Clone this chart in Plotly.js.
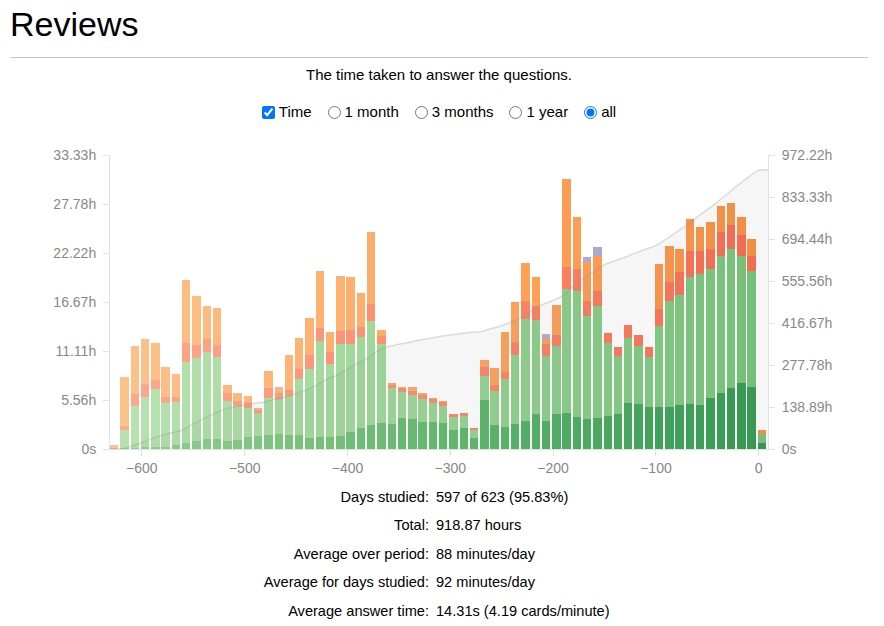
<!DOCTYPE html>
<html>
<head>
<meta charset="utf-8">
<script src="https://cdn.plot.ly/plotly-3.0.1.min.js"></script>
<style>
  html, body { margin: 0; padding: 0; background: #fff; }
  body { width: 884px; height: 626px; position: relative; overflow: hidden;
         font-family: "Liberation Sans", Arial, Helvetica, sans-serif; color: #000; }
  h1 { position: absolute; left: 10px; top: 4px; margin: 0; font-size: 34px; font-weight: normal; line-height: 40px; }
  hr { position: absolute; left: 10px; top: 57px; width: 858px; margin: 0; border: 0; border-top: 1px solid #c8c8c8; }
  .subtitle { position: absolute; left: 10px; width: 858px; top: 65px; text-align: center; font-size: 15px; line-height: 20px; }
  .controls { position: absolute; left: 10px; width: 858px; top: 102px; text-align: center; font-size: 15px; line-height: 20px; }
  .controls label { margin: 0 0 0 16px; white-space: nowrap; }
  .controls label:first-child { margin-left: 0; }
  .controls input { margin: 0 4px 0 0; vertical-align: -2px; }
  #chart { position: absolute; left: 0; top: 130px; width: 884px; height: 350px; }
  .stats { position: absolute; left: 0; top: 482.5px; width: 884px; display: grid;
           grid-template-columns: 429px auto; column-gap: 7px; font-size: 14.6px; line-height: 28.6px; }
  .stats .k { text-align: right; }
</style>
</head>
<body>
<h1>Reviews</h1>
<hr>
<div class="subtitle">The time taken to answer the questions.</div>
<div class="controls"><label><input type="checkbox" checked>Time</label><label><input type="radio" name="range">1 month</label><label><input type="radio" name="range">3 months</label><label><input type="radio" name="range">1 year</label><label><input type="radio" name="range" checked>all</label></div>
<div id="chart"></div>
<div class="stats" id="stats"></div>
<script>
// Ten-day bins, first day of each bin (days relative to today)
const binStart = [-631, -621, -611, -601, -591, -581, -571, -561, -551, -541,
  -531, -521, -511, -501, -491, -481, -471, -461, -451, -441,
  -431, -421, -411, -401, -391, -381, -371, -361, -351, -341,
  -331, -321, -311, -301, -291, -281, -271, -261, -251, -241,
  -231, -221, -211, -201, -191, -181, -171, -161, -151, -141,
  -131, -121, -111, -101, -91, -81, -71, -61, -51, -41,
  -31, -21, -11, -1];
const BIN_DAYS = 10;

// Hours spent per bin, by card type
const mature = [0, .15, .15, .19, .23, .23, .42, .72, .87, 1.1,
  1.12, .91, 1.02, 1.4, 1.47, 1.59, 1.7, 1.55, 1.55, 1.25,
  1.4, 1.32, 1.47, 1.93, 2.42, 2.76, 2.99, 2.83, 3.46, 3.36,
  3.02, 3.02, 2.91, 2.15, 2.34, 1.28, 5.56, 2.72, 2.5, 2.83,
  3.21, 3.97, 3.17, 3.97, 4.04, 3.67, 3.36, 3.48, 3.74, 3.97,
  5.18, 5.06, 4.8, 4.8, 4.8, 4.99, 5.06, 4.99, 5.82, 6.39,
  6.88, 7.45, 7.07, .72];
const young = [.05, 2.0, 4.73, 5.74, 6.53, 5.02, 4.87, 9.11, 9.41, 9.94,
  9.35, 4.57, 3.86, 3.21, 2.57, 4.15, 3.93, 4.42, 6.35, 7.83,
  10.84, 8.32, 10.43, 9.94, 10.24, 11.71, 8.91, 4.12, 3.02, 2.76,
  2.61, 2.23, 2.0, 1.52, 1.4, .87, 2.72, 3.86, 5.44, 7.83,
  11.49, 10.66, 7.37, 7.75, 14.06, 14.28, 11.72, 12.73, 8.24, 6.57,
  7.44, 6.66, 5.59, 9.18, 12.02, 12.47, 14.4, 14.81, 14.59, 15.53,
  15.76, 14.43, 13.11, .98];
const relearn = [.05, .46, 1.32, 1.44, 1.06, .61, .57, 2.19, 1.51, 1.39,
  1.32, .83, .56, .68, .36, 1.14, .68, .75, 1.13, 1.58,
  1.44, 1.32, 1.52, 1.62, 1.13, 1.97, .95, .3, .4, .49,
  .5, .45, .43, .25, .3, .22, 1.05, .68, .83, 1.51,
  2.12, 1.58, 1.36, 1.21, 2.5, 2.46, 1.74, 1.74, 1.21, .99,
  1.4, 1.21, 1.21, 1.89, 2.15, 2.65, 2.99, 2.65, 2.27, 2.64,
  2.79, 2.34, 1.74, .05];
const learn = [.3, 5.52, 5.48, 5.06, 4.2, 3.4, 2.61, 7.14, 5.59, 3.82,
  4.16, .95, .87, .76, .25, 1.96, .61, 3.98, 3.52, 4.15,
  6.5, 2.34, 6.19, 6.05, 3.93, 8.2, .64, .19, .15, .42,
  .18, .12, .1, .05, .08, .05, .76, 1.96, 4.46, 4.53,
  4.23, 3.25, .53, 3.4, 10.01, 5.86, 4.42, 3.97, 0, 0,
  0, 0, 0, 5.07, 4.08, 2.57, 3.59, 2.68, 3.09, 3.03,
  2.5, 2.05, 1.85, .4];
const filtered = [0, 0, 0, 0, 0, 0, 0, 0, 0, 0,
  0, 0, 0, 0, 0, 0, .15, 0, 0, 0,
  0, 0, 0, 0, 0, 0, 0, 0, 0, 0,
  0, 0, 0, 0, 0, 0, 0, 0, 0, 0,
  0, 0, .61, 0, 0, 0, .57, .94, 0, 0,
  0, 0, 0, 0, 0, 0, 0, 0, 0, 0,
  0, 0, 0, 0];

// Axis ticks
const xTicks = [-600, -500, -400, -300, -200, -100, 0];
const leftTickHours = [0, 5.5556, 11.1111, 16.6667, 22.2222, 27.7778, 33.3333];
const leftTickText = ["0s", "5.56h", "11.11h", "16.67h", "22.22h", "27.78h", "33.33h"];
const rightTickHours = [0, 138.889, 277.778, 416.667, 555.556, 694.444, 833.333, 972.222];
const rightTickText = ["0s", "138.89h", "277.78h", "416.67h", "555.56h", "694.44h", "833.33h", "972.22h"];

// Summary lines
const statLabels = ["Days studied:", "Total:", "Average over period:", "Average for days studied:", "Average answer time:"];
const statValues = ["597 of 623 (95.83%)", "918.87 hours", "88 minutes/day", "92 minutes/day", "14.31s (4.19 cards/minute)"];

const X_RANGE = [-631, 9];

// ColorBrewer sequential schemes, sampled with a uniform B-spline
const GREENS = ["#f7fcf5","#e5f5e0","#c7e9c0","#a1d99b","#74c476","#41ab5d","#238b45","#006d2c","#00441b"];
const REDS = ["#fff5f0","#fee0d2","#fcbba1","#fc9272","#fb6a4a","#ef3b2c","#cb181d","#a50f15","#67000d"];
const ORANGES = ["#fff5eb","#fee6ce","#fdd0a2","#fdae6b","#fd8d3c","#f16913","#d94801","#a63603","#7f2704"];
const PURPLES = ["#fcfbfd","#efedf5","#dadaeb","#bcbddc","#9e9ac8","#807dba","#6a51a3","#54278f","#3f007d"];

function hexRgb(h) {
  return [parseInt(h.slice(1, 3), 16), parseInt(h.slice(3, 5), 16), parseInt(h.slice(5, 7), 16)];
}
function basis(t1, v0, v1, v2, v3) {
  const t2 = t1 * t1, t3 = t2 * t1;
  return ((1 - 3 * t1 + 3 * t2 - t3) * v0 + (4 - 6 * t2 + 3 * t3) * v1 +
          (1 + 3 * t1 + 3 * t2 - 3 * t3) * v2 + t3 * v3) / 6;
}
function sampleScheme(scheme, t) {
  const vals = scheme.map(hexRgb);
  const n = vals.length - 1;
  let i;
  if (t <= 0) { t = 0; i = 0; } else if (t >= 1) { t = 1; i = n - 1; } else { i = Math.floor(t * n); }
  const out = [0, 1, 2].map(c => {
    const v1 = vals[i][c], v2 = vals[i + 1][c];
    const v0 = i > 0 ? vals[i - 1][c] : 2 * v1 - v2;
    const v3 = i < n - 1 ? vals[i + 2][c] : 2 * v2 - v1;
    return Math.round(Math.max(0, Math.min(255, basis((t - i / n) * n, v0, v1, v2, v3))));
  });
  return "rgb(" + out.join(",") + ")";
}
// older bins are lighter, recent bins darker
function shade(scheme, lo, hi) {
  return binStart.map(d => {
    const f = (d - X_RANGE[0]) / (X_RANGE[1] - X_RANGE[0]);
    return sampleScheme(scheme, lo + f * (hi - lo));
  });
}

function barTrace(name, values, colors) {
  return {
    type: "bar", name: name, x: binStart, y: values,
    offset: 0, width: 8.2,
    marker: { color: colors, line: { width: 0 } },
    hoverinfo: "skip"
  };
}

const traces = [
  barTrace("Mature", mature, shade(GREENS, 0.4, 0.7)),
  barTrace("Young", young, shade(GREENS, 0.3, 0.5)),
  barTrace("Relearn", relearn, shade(REDS, 0.3, 0.5)),
  barTrace("Learn", learn, shade(ORANGES, 0.3, 0.5)),
  barTrace("Filtered", filtered, shade(PURPLES, 0.3, 0.5))
];

// Running total of time spent, plotted against the right axis
const cumX = [binStart[0]];
const cumY = [0];
let running = 0;
binStart.forEach((d, i) => {
  running += mature[i] + young[i] + relearn[i] + learn[i] + filtered[i];
  cumX.push(d + BIN_DAYS);
  cumY.push(running);
});
traces.push({
  type: "scatter", mode: "lines", x: cumX, y: cumY, yaxis: "y2",
  fill: "tozeroy", fillcolor: "rgba(128,128,128,0.075)",
  line: { color: "rgba(150,150,150,0.3)", width: 1.5, shape: "spline", smoothing: 1 },
  hoverinfo: "skip"
});

const axisLine = "#e2e2e2";
const tickFont = { family: "Liberation Sans, Arial, sans-serif", size: 14, color: "#888" };

const layout = {
  width: 884, height: 350,
  margin: { l: 110, r: 116, t: 25, b: 31 },
  paper_bgcolor: "rgba(0,0,0,0)", plot_bgcolor: "rgba(0,0,0,0)",
  barmode: "stack", showlegend: false,
  font: { family: "Liberation Sans, Arial, sans-serif" },
  xaxis: {
    range: X_RANGE, tickvals: xTicks, showgrid: false, zeroline: false,
    showline: true, linecolor: axisLine, linewidth: 1,
    ticks: "outside", ticklen: 6, tickcolor: axisLine, tickfont: tickFont, fixedrange: true
  },
  yaxis: {
    range: [0, 33.3333], tickvals: leftTickHours, ticktext: leftTickText,
    showgrid: false, zeroline: false, showline: true, linecolor: axisLine, linewidth: 1,
    ticks: "outside", ticklen: 6, tickcolor: axisLine, tickfont: tickFont,
    ticklabelstandoff: 4, fixedrange: true
  },
  yaxis2: {
    overlaying: "y", side: "right",
    range: [0, 972.222], tickvals: rightTickHours, ticktext: rightTickText,
    showgrid: false, zeroline: false, showline: true, linecolor: axisLine, linewidth: 1,
    ticks: "outside", ticklen: 6, tickcolor: axisLine, tickfont: tickFont,
    ticklabelstandoff: 4, fixedrange: true
  }
};

Plotly.newPlot("chart", traces, layout, { displayModeBar: false, staticPlot: true });

const stats = document.getElementById("stats");
statLabels.forEach((k, i) => {
  const a = document.createElement("div"); a.className = "k"; a.textContent = k;
  const b = document.createElement("div"); b.className = "v"; b.textContent = statValues[i];
  stats.appendChild(a); stats.appendChild(b);
});
</script>
</body>
</html>
